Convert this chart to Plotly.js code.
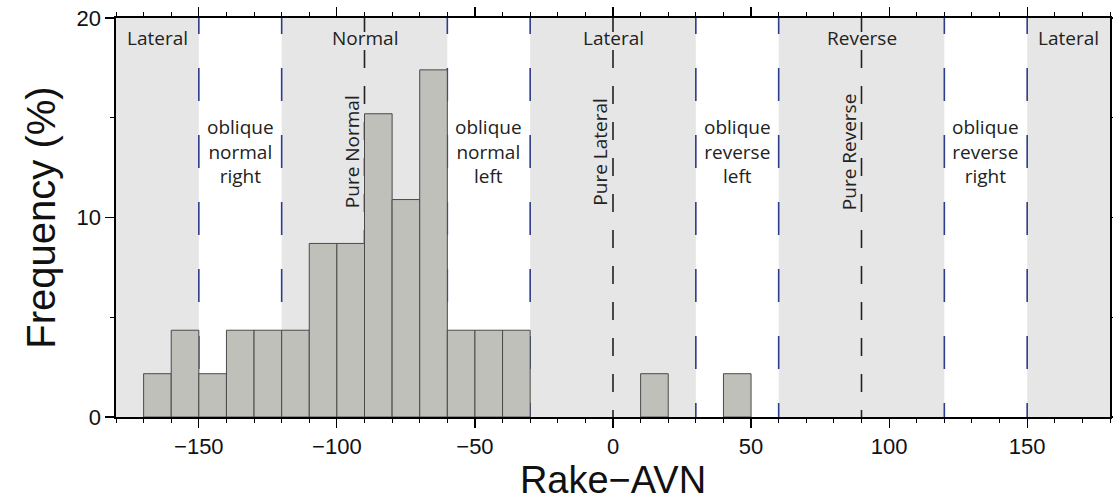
<!DOCTYPE html>
<html>
<head>
<meta charset="utf-8">
<script src="https://cdn.plot.ly/plotly-3.0.1.min.js"></script>
<style>html,body{margin:0;padding:0;background:#fff;}#chart{width:1113px;height:502px;}</style>
</head>
<body>
<div id="chart"></div>
<script>
// Histogram bins (centers, width 10 degrees) and frequency (%)
const binCenters = [-165,-155,-145,-135,-125,-115,-105,-95,-85,-75,-65,-55,-45,-35,15,45];
const frequency = [2.17,4.35,2.17,4.35,4.35,4.35,8.7,8.7,15.2,10.9,17.4,4.35,4.35,4.35,2.17,2.17];

// Shaded (grey) rake ranges
const shadeStarts = [-180,-120,-30,60,150];
const shadeEnds   = [-150,-60,30,120,180];
// Boundaries (blue dashed) and pure mechanisms (black dashed)
const boundaries = [-150,-120,-60,-30,30,60,120,150];
const pureLines = [-90,0,90];

// Region labels
const topLabels = ["Lateral","Normal","Lateral","Reverse","Lateral"];
const topLabelX = [-165,-90,0,90,165];
const obliqueLabels = ["oblique<br>normal<br>right","oblique<br>normal<br>left","oblique<br>reverse<br>left","oblique<br>reverse<br>right"];
const obliqueX = [-135,-45,45,135];
const pureLabels = ["Pure Normal","Pure Lateral","Pure Reverse"];

const xTicks = [-150,-100,-50,0,50,100,150];
const yTicks = [0,10,20];

const shapes = [];
shadeStarts.forEach((s,i)=>{
  shapes.push({type:'rect',xref:'x',yref:'y',x0:s,x1:shadeEnds[i],y0:0,y1:20,
    fillcolor:'#e6e6e6',line:{width:0},layer:'below'});
});
boundaries.forEach(b=>{
  shapes.push({type:'line',xref:'x',yref:'y',x0:b,x1:b,y0:20.85,y1:0,
    line:{color:'#2e3c8c',width:1.6,dash:'33px,34px'},layer:'below'});
});
pureLines.forEach(p=>{
  shapes.push({type:'line',xref:'x',yref:'y',x0:p,x1:p,y0:20.2,y1:0,
    line:{color:'#222222',width:1.6,dash:'18px,18px'},layer:'below'});
});

const labelFont = {family:'Open Sans, Noto Sans, sans-serif',size:19,color:'#222'};
const annotations = [];
topLabels.forEach((t,i)=>{
  annotations.push({x:topLabelX[i],y:19,xref:'x',yref:'y',text:t,showarrow:false,
    font:labelFont});
});
obliqueLabels.forEach((t,i)=>{
  annotations.push({x:obliqueX[i],y:13.3,xref:'x',yref:'y',text:t,showarrow:false,
    font:labelFont,align:'center'});
});
pureLabels.forEach((t,i)=>{
  annotations.push({x:pureLines[i],y:13.3,xref:'x',yref:'y',text:t,showarrow:false,
    font:labelFont,textangle:-90,xanchor:'right',xshift:2});
});

const trace = {
  type:'bar', x:binCenters, y:frequency, width:10,
  marker:{color:'#c0c0bb',line:{color:'#4a4a4a',width:1}},
  hoverinfo:'x+y'
};

const axisFont = {family:'Liberation Sans, Arial, sans-serif',size:22,color:'#111'};
const layout = {
  width:1113,height:502,
  margin:{l:116,r:3,t:18,b:85},
  paper_bgcolor:'#fff',plot_bgcolor:'#fff',
  showlegend:false,bargap:0,
  shapes:shapes,annotations:annotations,
  xaxis:{range:[-180,180],tickvals:xTicks,ticks:'outside',ticklen:9,tickwidth:1.2,tickcolor:'#000',
    minor:{dtick:10,tick0:0,ticks:'outside',ticklen:4,tickwidth:1,tickcolor:'#000'},
    showline:true,linecolor:'#000',linewidth:1.6,mirror:'allticks',showgrid:false,zeroline:false,
    tickfont:axisFont,
    title:{text:'Rake\u2212AVN',font:{family:'Liberation Sans, Arial, sans-serif',size:38,color:'#111'},standoff:8}},
  yaxis:{range:[0,20],tickvals:yTicks,ticks:'outside',ticklen:9,tickwidth:1.2,tickcolor:'#000',
    minor:{dtick:5,tick0:0,ticks:'outside',ticklen:4,tickwidth:1,tickcolor:'#000'},
    showline:true,linecolor:'#000',linewidth:1.6,mirror:'allticks',showgrid:false,zeroline:false,
    tickfont:axisFont,
    title:{text:'Frequency (%)',font:{family:'Liberation Sans, Arial, sans-serif',size:40,color:'#111'},standoff:8}}
};

Plotly.newPlot('chart',[trace],layout,{displayModeBar:false,staticPlot:true});
</script>
</body>
</html>
